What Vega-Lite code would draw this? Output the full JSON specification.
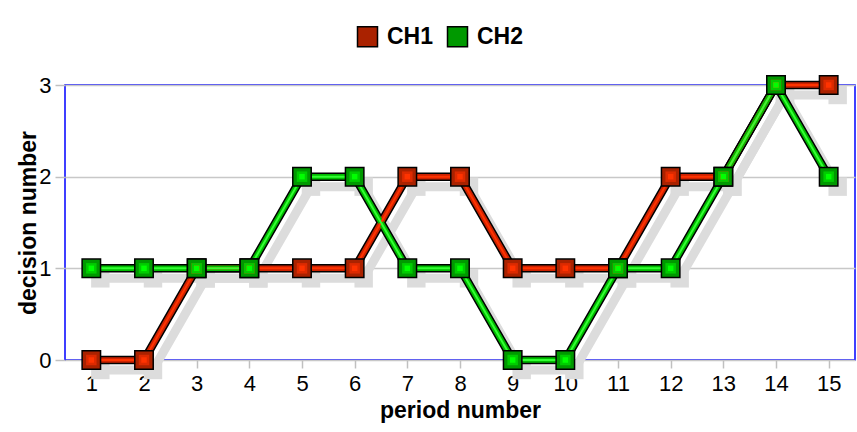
{
  "$schema": "https://vega.github.io/schema/vega-lite/v6.json",
  "width": 790,
  "height": 275,
  "autosize": "none",
  "padding": {"left": 65, "top": 85, "right": 2, "bottom": 72},
  "background": "white",
  "config": {
    "font": "Liberation Sans",
    "view": {"stroke": "#0000ff", "strokeWidth": 1.5},
    "axis": {"labelFont": "Liberation Sans", "titleFont": "Liberation Sans", "labelColor": "black", "titleColor": "black"}
  },
  "data": {
    "values": [
      {"period": 1, "series": "CH1", "value": 0},
      {"period": 2, "series": "CH1", "value": 0},
      {"period": 3, "series": "CH1", "value": 1},
      {"period": 4, "series": "CH1", "value": 1},
      {"period": 5, "series": "CH1", "value": 1},
      {"period": 6, "series": "CH1", "value": 1},
      {"period": 7, "series": "CH1", "value": 2},
      {"period": 8, "series": "CH1", "value": 2},
      {"period": 9, "series": "CH1", "value": 1},
      {"period": 10, "series": "CH1", "value": 1},
      {"period": 11, "series": "CH1", "value": 1},
      {"period": 12, "series": "CH1", "value": 2},
      {"period": 13, "series": "CH1", "value": 2},
      {"period": 14, "series": "CH1", "value": 3},
      {"period": 15, "series": "CH1", "value": 3},
      {"period": 1, "series": "CH2", "value": 1},
      {"period": 2, "series": "CH2", "value": 1},
      {"period": 3, "series": "CH2", "value": 1},
      {"period": 4, "series": "CH2", "value": 1},
      {"period": 5, "series": "CH2", "value": 2},
      {"period": 6, "series": "CH2", "value": 2},
      {"period": 7, "series": "CH2", "value": 1},
      {"period": 8, "series": "CH2", "value": 1},
      {"period": 9, "series": "CH2", "value": 0},
      {"period": 10, "series": "CH2", "value": 0},
      {"period": 11, "series": "CH2", "value": 1},
      {"period": 12, "series": "CH2", "value": 1},
      {"period": 13, "series": "CH2", "value": 2},
      {"period": 14, "series": "CH2", "value": 3},
      {"period": 15, "series": "CH2", "value": 2}
    ]
  },
  "encoding": {
    "x": {
      "field": "period", "type": "ordinal",
      "scale": {"type": "point", "padding": 0.5},
      "axis": {
        "title": "period number", "titleFontSize": 23, "titleFontWeight": "bold", "titlePadding": 5,
        "labelAngle": 0, "labelFontSize": 22, "labelPadding": 5,
        "tickColor": "#c0c0c0", "tickSize": 8, "tickWidth": 1.5, "domain": false, "grid": false
      }
    },
    "y": {
      "field": "value", "type": "quantitative",
      "scale": {"domain": [0, 3]},
      "axis": {
        "title": "decision number", "titleFontSize": 23, "titleFontWeight": "bold", "titlePadding": -2,
        "values": [0, 1, 2, 3], "labelFontSize": 22, "labelPadding": 4,
        "tickColor": "#c0c0c0", "tickSize": 10, "tickWidth": 1.5, "domain": false,
        "grid": true, "gridColor": "#c8c8c8", "gridWidth": 1.5
      }
    }
  },
  "layer": [
    {
      "mark": {"type": "line", "color": "#dcdcdc", "strokeWidth": 9, "xOffset": 9, "yOffset": 10, "clip": false},
      "encoding": {"detail": {"field": "series"}}
    },
    {
      "mark": {"type": "square", "color": "#dcdcdc", "opacity": 1, "filled": true, "size": 340, "xOffset": 9, "yOffset": 10, "clip": false},
      "encoding": {"detail": {"field": "series"}}
    },
    {
      "mark": {"type": "line", "color": "black", "strokeWidth": 8.5},
      "encoding": {"detail": {"field": "series"}}
    },
    {
      "mark": {"type": "line", "strokeWidth": 5.5},
      "encoding": {"color": {"field": "series", "scale": {"domain": ["CH1", "CH2"], "range": ["#cc2200", "#00bb00"]}, "legend": null}}
    },
    {
      "mark": {"type": "line", "strokeWidth": 2},
      "encoding": {"color": {"field": "series", "scale": {"domain": ["CH1", "CH2"], "range": ["#ff3300", "#33ff33"]}, "legend": null}}
    },
    {
      "mark": {"type": "point", "shape": "square", "filled": true, "opacity": 1, "size": 340, "stroke": "black", "strokeWidth": 1.5},
      "encoding": {
        "fill": {"field": "series", "scale": {"domain": ["CH1", "CH2"], "range": ["#aa2200", "#009900"]},
          "legend": {
            "title": null, "orient": "none", "direction": "horizontal", "legendX": 291, "legendY": -60,
            "labelFontSize": 23, "labelFontWeight": "bold", "labelFont": "Liberation Sans", "labelColor": "black",
            "symbolSize": 400, "symbolType": "square", "symbolStrokeColor": "black", "symbolStrokeWidth": 1.5,
            "columnPadding": 10, "labelOffset": 8
          }
        }
      }
    },
    {
      "mark": {"type": "point", "shape": "square", "filled": true, "opacity": 1, "size": 110},
      "encoding": {"color": {"field": "series", "scale": {"domain": ["CH1", "CH2"], "range": ["#dd2a00", "#00cc00"]}, "legend": null}}
    },
    {
      "mark": {"type": "point", "shape": "square", "filled": true, "opacity": 1, "size": 30},
      "encoding": {"color": {"field": "series", "scale": {"domain": ["CH1", "CH2"], "range": ["#ff3300", "#00ff00"]}, "legend": null}}
    }
  ],
  "resolve": {"scale": {"color": "independent", "fill": "independent"}}
}
